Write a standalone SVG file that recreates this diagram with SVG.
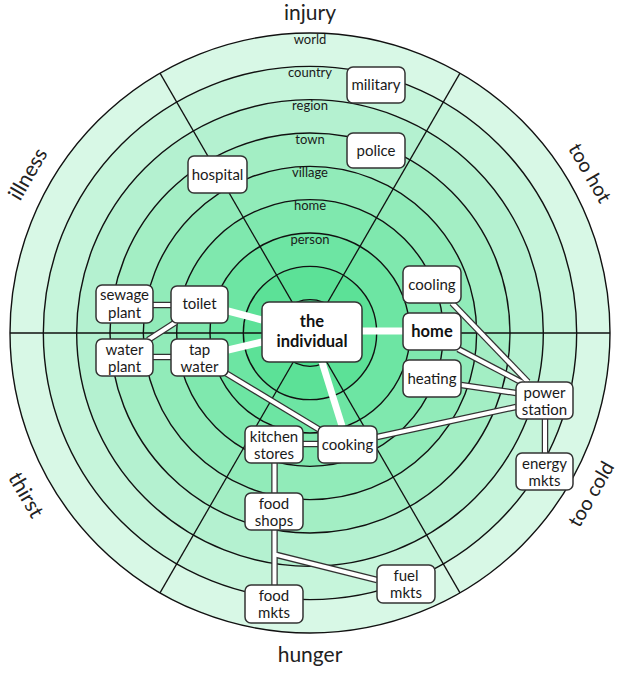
<svg xmlns="http://www.w3.org/2000/svg" width="620" height="678" viewBox="0 0 620 678">
<style>
.ring{stroke:#111;stroke-width:1.4}
.spoke{stroke:#111;stroke-width:1.3;fill:none}
.lbl{font-family:Lato,"Open Sans",sans-serif;font-size:13px;fill:#1a1a1a;text-anchor:middle}
.cat{font-family:Lato,"Open Sans",sans-serif;font-size:21px;fill:#222;text-anchor:middle}
.cat.s{font-size:20px}
.node rect{fill:#fff;stroke:#333;stroke-width:1.5}
.node text{font-family:Lato,"Open Sans",sans-serif;font-size:15px;fill:#1a1a1a;text-anchor:middle}
.node text.b{font-weight:bold;font-size:16.5px;fill:#111}
.co{stroke:#333;stroke-width:6.5;stroke-linecap:butt}
.ci{stroke:#fff;stroke-width:4;stroke-linecap:butt}
.main{stroke:#fff;stroke-width:7}
</style>
<rect width="620" height="678" fill="#fff"/>
<g id="rings">
<circle class="ring" cx="310" cy="333" r="300" fill="#d8f8e6"/>
<circle class="ring" cx="310" cy="333" r="266.67" fill="#c6f5db"/>
<circle class="ring" cx="310" cy="333" r="233.33" fill="#b4f1d0"/>
<circle class="ring" cx="310" cy="333" r="200" fill="#a3eec4"/>
<circle class="ring" cx="310" cy="333" r="166.67" fill="#91ebb9"/>
<circle class="ring" cx="310" cy="333" r="133.33" fill="#7fe8ae"/>
<circle class="ring" cx="310" cy="333" r="100" fill="#6de5a3"/>
<circle class="ring" cx="310" cy="333" r="66.67" fill="#5ce197"/>
<circle class="ring" cx="310" cy="333" r="33.33" fill="#4ade8c"/>
<line class="spoke" x1="10" y1="333" x2="610" y2="333"/>
<line class="spoke" x1="160" y1="73.2" x2="460" y2="592.8"/>
<line class="spoke" x1="460" y1="73.2" x2="160" y2="592.8"/>
</g>
<g id="ring-labels">
<text class="lbl" x="310" y="43.5">world</text>
<text class="lbl" x="310" y="77">country</text>
<text class="lbl" x="310" y="110">region</text>
<text class="lbl" x="310" y="143.5">town</text>
<text class="lbl" x="310" y="177">village</text>
<text class="lbl" x="310" y="210">home</text>
<text class="lbl" x="310" y="243.5">person</text>
</g>
<g id="categories">
<text class="cat" x="310" y="20">injury</text>
<text class="cat" x="310" y="662">hunger</text>
<text class="cat" transform="translate(28,174) rotate(-60)" x="0" y="7">illness</text>
<text class="cat s" transform="translate(590,173) rotate(60)" x="0" y="7">too hot</text>
<text class="cat" transform="translate(26,495) rotate(60)" x="0" y="7">thirst</text>
<text class="cat s" transform="translate(591,494) rotate(-60)" x="0" y="7">too cold</text>
</g>
<g id="connectors">
<line class="main" x1="262" y1="320" x2="228" y2="311"/>
<line class="main" x1="262" y1="342" x2="228" y2="350"/>
<line class="main" x1="362" y1="331" x2="403" y2="331"/>
<line class="main" x1="322" y1="362" x2="342" y2="426"/>
<g>
<line class="co" x1="153" y1="305" x2="171" y2="305"/>
<line class="co" x1="153" y1="357" x2="171" y2="357"/>
<line class="co" x1="148" y1="340" x2="176" y2="322"/>
<line class="co" x1="224" y1="372" x2="320" y2="430"/>
<line class="co" x1="377" y1="437" x2="516" y2="407"/>
<line class="co" x1="303" y1="444" x2="318" y2="444"/>
<line class="co" x1="274.5" y1="463" x2="274.5" y2="493"/>
<line class="co" x1="274.5" y1="530" x2="274.5" y2="585"/>
<line class="co" x1="277" y1="555" x2="377" y2="580"/>
<line class="co" x1="452" y1="303" x2="528" y2="382"/>
<line class="co" x1="458" y1="349" x2="523" y2="383"/>
<line class="co" x1="461" y1="385" x2="516" y2="393"/>
<line class="co" x1="545" y1="419" x2="545" y2="453"/>
</g>
<g>
<line class="ci" x1="153" y1="305" x2="171" y2="305"/>
<line class="ci" x1="153" y1="357" x2="171" y2="357"/>
<line class="ci" x1="148" y1="340" x2="176" y2="322"/>
<line class="ci" x1="224" y1="372" x2="320" y2="430"/>
<line class="ci" x1="377" y1="437" x2="516" y2="407"/>
<line class="ci" x1="303" y1="444" x2="318" y2="444"/>
<line class="ci" x1="274.5" y1="463" x2="274.5" y2="493"/>
<line class="ci" x1="274.5" y1="530" x2="274.5" y2="585"/>
<line class="ci" x1="274.5" y1="554.4" x2="377" y2="580"/>
<line class="ci" x1="452" y1="303" x2="528" y2="382"/>
<line class="ci" x1="458" y1="349" x2="523" y2="383"/>
<line class="ci" x1="461" y1="385" x2="516" y2="393"/>
<line class="ci" x1="545" y1="419" x2="545" y2="453"/>
</g>
</g>
<g id="military" class="node"><rect x="347" y="67" width="58" height="36" rx="6"/><text x="376" y="90">military</text></g>
<g id="police" class="node"><rect x="347" y="133" width="58" height="35" rx="6"/><text x="376" y="156">police</text></g>
<g id="hospital" class="node"><rect x="188" y="156" width="59" height="37" rx="6"/><text x="217.5" y="180">hospital</text></g>
<g id="sewage-plant" class="node"><rect x="96" y="285" width="57" height="38" rx="6"/><text x="124.5" y="300">sewage</text><text x="124.5" y="318">plant</text></g>
<g id="toilet" class="node"><rect x="171" y="286" width="57" height="37" rx="6"/><text x="199.5" y="309">toilet</text></g>
<g id="water-plant" class="node"><rect x="96" y="339" width="57" height="37" rx="6"/><text x="124.5" y="355">water</text><text x="124.5" y="372">plant</text></g>
<g id="tap-water" class="node"><rect x="171" y="339" width="57" height="37" rx="6"/><text x="199.5" y="355">tap</text><text x="199.5" y="372">water</text></g>
<g id="the-individual" class="node"><rect x="262" y="302" width="100" height="60" rx="7"/><text class="b" x="312" y="327">the</text><text class="b" x="312" y="347">individual</text></g>
<g id="cooling" class="node"><rect x="403" y="266" width="58" height="37" rx="6"/><text x="432" y="290">cooling</text></g>
<g id="home" class="node"><rect x="403" y="313" width="58" height="37" rx="6"/><text class="b" x="432" y="337">home</text></g>
<g id="heating" class="node"><rect x="403" y="360" width="58" height="37" rx="6"/><text x="432" y="384">heating</text></g>
<g id="power-station" class="node"><rect x="516" y="382" width="57" height="37" rx="6"/><text x="544.5" y="398">power</text><text x="544.5" y="415">station</text></g>
<g id="energy-mkts" class="node"><rect x="516" y="453" width="57" height="37" rx="6"/><text x="544.5" y="469">energy</text><text x="544.5" y="486">mkts</text></g>
<g id="kitchen-stores" class="node"><rect x="245" y="426" width="58" height="37" rx="6"/><text x="274" y="442">kitchen</text><text x="274" y="459">stores</text></g>
<g id="cooking" class="node"><rect x="318" y="426" width="59" height="37" rx="6"/><text x="347.5" y="450">cooking</text></g>
<g id="food-shops" class="node"><rect x="245" y="493" width="58" height="37" rx="6"/><text x="274" y="509">food</text><text x="274" y="526">shops</text></g>
<g id="fuel-mkts" class="node"><rect x="377" y="565" width="58" height="38" rx="6"/><text x="406" y="581">fuel</text><text x="406" y="598">mkts</text></g>
<g id="food-mkts" class="node"><rect x="245" y="585" width="58" height="38" rx="6"/><text x="274" y="601">food</text><text x="274" y="618">mkts</text></g>
</svg>
